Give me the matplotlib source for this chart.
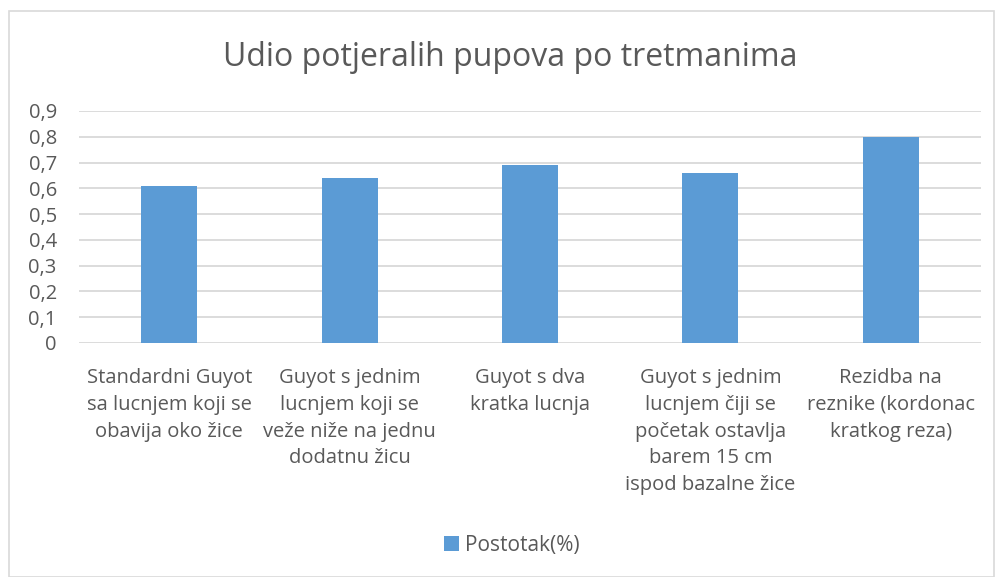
import matplotlib.pyplot as plt
from matplotlib.patches import Rectangle

# ---------------- data ----------------
categories = [
    "Standardni Guyot\nsa lucnjem koji se\nobavija oko žice",
    "Guyot s jednim\nlucnjem koji se\nveže niže na jednu\ndodatnu žicu",
    "Guyot s dva\nkratka lucnja",
    "Guyot s jednim\nlucnjem čiji se\npočetak ostavlja\nbarem 15 cm\nispod bazalne žice",
    "Rezidba na\nreznike (kordonac\nkratkog reza)",
]
values = [0.61, 0.64, 0.69, 0.66, 0.80]
yticks = [0, 0.1, 0.2, 0.3, 0.4, 0.5, 0.6, 0.7, 0.8, 0.9]
ytick_labels = ["0", "0,1", "0,2", "0,3", "0,4", "0,5", "0,6", "0,7", "0,8", "0,9"]
series_name = "Postotak(%)"
title = "Udio potjeralih pupova po tretmanima"

plt.rcParams['font.family'] = ['Open Sans', 'DejaVu Sans']
txt = '#595959'
bar_color = '#5B9BD5'

fig = plt.figure(figsize=(9.96, 5.77), dpi=100)
ax = fig.add_axes([79 / 996, 1 - 343 / 577, 902 / 996, 232 / 577])

x = list(range(len(values)))
ax.bar(x, values, width=0.31, color=bar_color, label=series_name, zorder=3)

ax.set_xlim(-0.5, len(values) - 0.5)
ax.set_ylim(0, 0.9)
ax.set_yticks(yticks)
ax.set_yticklabels(ytick_labels, color=txt, fontsize=14.5)
ax.set_xticks(x)
ax.set_xticklabels(categories, color=txt, fontsize=14.5, linespacing=1.45)
ax.tick_params(length=0)
ax.tick_params(axis='y', pad=16)
ax.tick_params(axis='x', pad=18)
ax.grid(axis='y', color='#D9D9D9', linewidth=1.3, zorder=0)
for s in ax.spines.values():
    s.set_visible(False)

fig.text(510 / 996, 1 - 57 / 577, title, ha='center', va='center', fontsize=23, color=txt)

leg = fig.legend(loc='center', bbox_to_anchor=(512 / 996, 1 - 545 / 577), frameon=False,
                 fontsize=15, handlelength=0.7, handleheight=0.7, handletextpad=0.3)
for t in leg.get_texts():
    t.set_color(txt)

# chart border
fig.patches.append(Rectangle((9 / 996, 0.5 / 577), 985 / 996, 566 / 577, transform=fig.transFigure,
                             fill=False, edgecolor='#D9D9D9', linewidth=1.2))

fig.savefig('out.png', dpi=100)
